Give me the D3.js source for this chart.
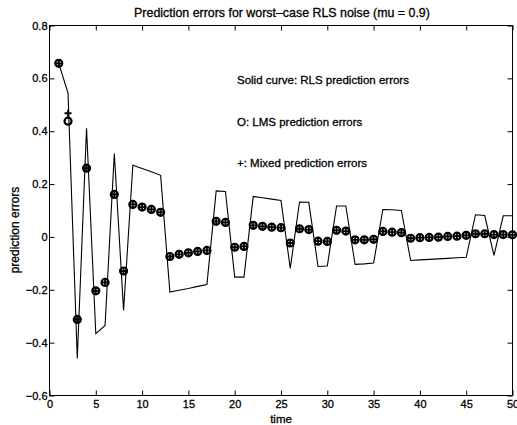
<!DOCTYPE html>
<html>
<head>
<meta charset="utf-8">
<script src="https://cdn.jsdelivr.net/npm/d3@7/dist/d3.min.js"></script>
<style>
  html, body { margin: 0; padding: 0; background: #fff; }
  svg { display: block; }
  text { font-family: "Liberation Sans", Arial, Helvetica, sans-serif; fill: #000; stroke: #000; stroke-width: 0.3px; }
</style>
</head>
<body>
<svg id="chart" width="517" height="425"></svg>
<script>
// ---- data ----
const time = d3.range(1, 51);
const rlsErrors = [
  0.657, 0.544, -0.460, 0.411, -0.366, -0.335, 0.316, -0.278, 0.271, 0.259,
  0.247, 0.233, -0.209, -0.202, -0.195, -0.187, -0.180, 0.174, 0.172, -0.152,
  -0.152, 0.153, 0.148, 0.143, 0.138, -0.119, 0.132, 0.131, -0.112, -0.110,
  0.117, 0.117, -0.104, -0.102, -0.099, 0.104, 0.103, 0.100, -0.089, -0.087,
  -0.085, -0.083, -0.081, -0.079, -0.077, 0.084, 0.081, -0.070, 0.080, 0.080
];
const lmsErrors = [
  0.657, 0.438, -0.312, 0.260, -0.204, -0.172, 0.161, -0.129, 0.123, 0.113,
  0.104, 0.093, -0.074, -0.066, -0.060, -0.055, -0.051, 0.059, 0.055, -0.039,
  -0.036, 0.044, 0.040, 0.037, 0.035, -0.023, 0.031, 0.028, -0.016, -0.017,
  0.025, 0.022, -0.011, -0.011, -0.009, 0.021, 0.018, 0.016, -0.005, -0.003,
  -0.002, -0.001, 0.002, 0.003, 0.006, 0.012, 0.012, 0.009, 0.009, 0.008
];
const mixedErrors = [
  0.657, 0.468, -0.312, 0.260, -0.204, -0.172, 0.161, -0.129, 0.123, 0.113,
  0.104, 0.093, -0.074, -0.066, -0.060, -0.055, -0.051, 0.059, 0.055, -0.039,
  -0.036, 0.044, 0.040, 0.037, 0.035, -0.023, 0.031, 0.028, -0.016, -0.017,
  0.025, 0.022, -0.011, -0.011, -0.009, 0.021, 0.018, 0.016, -0.005, -0.003,
  -0.002, -0.001, 0.002, 0.003, 0.006, 0.012, 0.012, 0.009, 0.009, 0.008
];
const xTicks = [0, 5, 10, 15, 20, 25, 30, 35, 40, 45, 50];
const yTicks = [-0.6, -0.4, -0.2, 0, 0.2, 0.4, 0.6, 0.8];
const titleText = "Prediction errors for worst\u2013case RLS noise (mu = 0.9)";
const xLabel = "time";
const yLabel = "prediction errors";
const notes = [
  "Solid curve: RLS prediction errors",
  "O: LMS prediction errors",
  "+: Mixed prediction errors"
];

// ---- layout ----
const svg = d3.select("#chart");
const L = 49.5, R = 512.5, T = 25.5, B = 395.5;
const x = d3.scaleLinear().domain([0, 50]).range([L, R]);
const y = d3.scaleLinear().domain([-0.6, 0.8]).range([B, T]);
const fs = "11px";

// frame
svg.append("rect").attr("x", L).attr("y", T).attr("width", R - L).attr("height", B - T)
  .attr("fill", "none").attr("stroke", "#000").attr("stroke-width", 1);

const styleAxis = g => {
  g.select(".domain").remove();
  g.selectAll(".tick line").attr("stroke", "#000").attr("stroke-width", 1);
  g.selectAll("text").style("font-size", fs).attr("fill", "#000");
};

svg.append("g").attr("transform", `translate(0,${B})`)
  .call(d3.axisBottom(x).tickValues(xTicks).tickSize(-5).tickPadding(5).tickFormat(d3.format("d")))
  .call(styleAxis);
svg.append("g").attr("transform", `translate(0,${T})`)
  .call(d3.axisTop(x).tickValues(xTicks).tickSize(-5).tickFormat(""))
  .call(styleAxis);
svg.append("g").attr("transform", `translate(${L},0)`)
  .call(d3.axisLeft(y).tickValues(yTicks).tickSize(-5).tickPadding(2).tickFormat(d => d3.format("")(+d.toFixed(1)).replace("-", "\u2212")))
  .call(styleAxis);
svg.append("g").attr("transform", `translate(${R},0)`)
  .call(d3.axisRight(y).tickValues(yTicks).tickSize(-5).tickFormat(""))
  .call(styleAxis);

// axis labels & title
svg.append("text").attr("x", 282).attr("y", 17).attr("text-anchor", "middle")
  .style("font-size", "12.4px").text(titleText);
svg.append("text").attr("x", 281).attr("y", 422.5).attr("text-anchor", "middle")
  .style("font-size", "11.5px").text(xLabel);
svg.append("text").attr("transform", "translate(19,230) rotate(-90)").attr("text-anchor", "middle")
  .style("font-size", "12px").text(yLabel);

// notes
svg.selectAll(".note").data(notes).enter().append("text")
  .attr("class", "note")
  .attr("x", 237).attr("y", (d, i) => 84 + i * 41.5)
  .style("font-size", "11.5px").text(d => d);

// RLS line
const rlsData = time.map((t, i) => [t, rlsErrors[i]]);
svg.append("path").datum(rlsData)
  .attr("fill", "none").attr("stroke", "#000").attr("stroke-width", 1.1)
  .attr("d", d3.line().x(d => x(d[0])).y(d => y(d[1])));

// LMS circles
svg.selectAll(".lms").data(time.map((t, i) => [t, lmsErrors[i]])).enter().append("circle")
  .attr("class", "lms")
  .attr("cx", d => x(d[0])).attr("cy", d => y(d[1])).attr("r", 3.5)
  .attr("fill", "none").attr("stroke", "#000").attr("stroke-width", 2.2);

// Mixed plus markers
svg.selectAll(".mixed").data(time.map((t, i) => [t, mixedErrors[i]])).enter().append("path")
  .attr("class", "mixed")
  .attr("transform", d => `translate(${x(d[0])},${y(d[1])})`)
  .attr("d", "M-3.5,0H3.5M0,-3.5V3.5")
  .attr("fill", "none").attr("stroke", "#000").attr("stroke-width", 1.8);
</script>
</body>
</html>
